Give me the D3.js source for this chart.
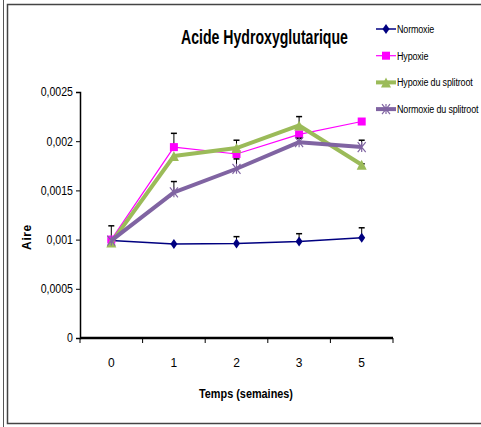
<!DOCTYPE html>
<html>
<head>
<meta charset="utf-8">
<script src="https://cdn.jsdelivr.net/npm/d3@7"></script>
<style>
  body { margin: 0; background: #fff; overflow: hidden; }
  svg { display: block; }
  text { font-family: "Liberation Sans", Arial, sans-serif; }
</style>
</head>
<body>
<div id="chart"></div>
<script>
// data
const weeks = ['0', '1', '2', '3', '5'];
const seriesNames = ['Normoxie', 'Hypoxie', 'Hypoxie du splitroot', 'Normoxie du splitroot'];
const normoxie = [0.00099, 0.000955, 0.00096, 0.00098, 0.00102];
const normoxieErr = [0.00015, 0, 0.00007, 0.00008, 0.0001];
const hypoxie = [0.001, 0.00194, 0.00187, 0.00207, 0.0022];
const hypoxieErr = [0, 0.00014, 0, 0, 0];
const hypoxieSplit = [0.00097, 0.00185, 0.00193, 0.00216, 0.00176];
const hypoxieSplitErr = [0, 0, 0.00008, 0.00009, 0.00001];
const normoxieSplit = [0.00099, 0.00148, 0.00172, 0.00199, 0.00194];
const normoxieSplitErr = [0, 0.00011, 0.0001, 0.00004, 0.00007];
const yTicks = [0, 0.0005, 0.001, 0.0015, 0.002, 0.0025];

const W = 481, H = 427;
const svg = d3.select('#chart').append('svg').attr('width', W).attr('height', H);

// frames
svg.append('line').attr('x1', 3.5).attr('x2', 3.5).attr('y1', 0).attr('y2', H)
  .attr('stroke', '#555').attr('stroke-width', 1);
svg.append('rect').attr('x', 7.5).attr('y', 4.5).attr('width', W).attr('height', 419)
  .attr('fill', 'none').attr('stroke', '#444').attr('stroke-width', 1.5);

// scales
const x = d3.scaleBand().domain(weeks).range([80, 393]);
const y = d3.scaleLinear().domain([0, 0.0025]).range([338, 92]);

const fmt = v => v === 0 ? '0' : String(v).replace('.', ',');

// y axis
const yAxisG = svg.append('g').attr('transform', 'translate(80,0)')
  .call(d3.axisLeft(y).tickValues(yTicks).tickFormat(fmt).tickSize(4).tickPadding(4));
yAxisG.select('.domain').attr('stroke', '#000').attr('stroke-width', 1.5);
yAxisG.selectAll('.tick line').attr('stroke', '#000');
yAxisG.selectAll('text').attr('font-family', '"Liberation Sans", Arial, sans-serif')
  .attr('font-size', 12).attr('fill', '#000')
  .attr('transform', 'scale(0.88,1)');

// x axis: ticks between categories
const xAxisG = svg.append('g').attr('transform', 'translate(0,338)');
xAxisG.append('line').attr('x1', 80).attr('x2', 393).attr('stroke', '#000').attr('stroke-width', 2.5);
const bounds = weeks.map(w => x(w)).concat([x.range()[1]]);
xAxisG.selectAll('.tk').data(bounds).join('line')
  .attr('x1', d => d).attr('x2', d => d).attr('y1', 0).attr('y2', 5)
  .attr('stroke', '#000');
xAxisG.selectAll('.lbl').data(weeks).join('text')
  .attr('x', d => x(d) + x.bandwidth() / 2).attr('y', 29)
  .attr('text-anchor', 'middle').attr('font-size', 12).text(d => d);

// condensed text: squeeze horizontally to a target width
function narrowText(px, py, target, size, label) {
  const g = svg.append('g');
  const t = g.append('text').attr('font-size', size).attr('font-weight', 'bold').text(label);
  const k = target / t.node().getComputedTextLength();
  g.attr('transform', `translate(${px},${py}) scale(${k},1)`);
  return t;
}
narrowText(181, 44, 167, 20, 'Acide Hydroxyglutarique');
narrowText(199, 398, 94, 13.5, 'Temps (semaines)');

svg.append('text').attr('transform', 'translate(31,237) rotate(-90)')
  .attr('text-anchor', 'middle')
  .attr('font-size', 12).attr('font-weight', 'bold').attr('letter-spacing', 0.6).text('Aire');

const series = [
  { name: seriesNames[0], values: normoxie, err: normoxieErr, color: '#000080', width: 1.5, marker: 'diamond' },
  { name: seriesNames[1], values: hypoxie, err: hypoxieErr, color: '#FF00FF', width: 1.2, marker: 'square' },
  { name: seriesNames[2], values: hypoxieSplit, err: hypoxieSplitErr, color: '#9BBB59', width: 4, marker: 'triangle' },
  { name: seriesNames[3], values: normoxieSplit, err: normoxieSplitErr, color: '#8064A2', width: 4, marker: 'x' }
];

const cx = w => x(w) + x.bandwidth() / 2;

function drawMarker(g, type, px, py, color) {
  if (type === 'diamond') {
    g.append('path').attr('d', `M${px},${py - 5}L${px + 3.5},${py}L${px},${py + 5}L${px - 3.5},${py}Z`).attr('fill', color);
  } else if (type === 'square') {
    g.append('rect').attr('x', px - 4).attr('y', py - 4).attr('width', 8).attr('height', 8).attr('fill', color);
  } else if (type === 'triangle') {
    g.append('path').attr('d', `M${px},${py - 5}L${px + 5},${py + 5}L${px - 5},${py + 5}Z`).attr('fill', color);
  } else {
    g.append('path').attr('d', `M${px - 4},${py - 5}L${px + 4},${py + 5}M${px + 4},${py - 5}L${px - 4},${py + 5}M${px},${py - 5}L${px},${py + 5}`)
      .attr('stroke', color).attr('stroke-width', 1.2).attr('fill', 'none');
  }
}

const line = d3.line().x(d => cx(d.w)).y(d => y(d.v));

series.forEach(s => {
  const pts = weeks.map((w, i) => ({ w: w, v: s.values[i], e: s.err[i] }));
  const g = svg.append('g');
  // error bars (upper only)
  pts.filter(p => p.e > 0).forEach(p => {
    g.append('line').attr('x1', cx(p.w)).attr('x2', cx(p.w)).attr('y1', y(p.v)).attr('y2', y(p.v + p.e))
      .attr('stroke', '#000').attr('stroke-width', 1);
    g.append('line').attr('x1', cx(p.w) - 3).attr('x2', cx(p.w) + 3).attr('y1', y(p.v + p.e)).attr('y2', y(p.v + p.e))
      .attr('stroke', '#000').attr('stroke-width', 1.5);
  });
  g.append('path').datum(pts).attr('d', line).attr('fill', 'none')
    .attr('stroke', s.color).attr('stroke-width', s.width).attr('stroke-linejoin', 'round');
  pts.forEach(p => drawMarker(g, s.marker, cx(p.w), y(p.v), s.color));
});

// legend
const legend = svg.append('g');
series.forEach((s, i) => {
  const ly = 29 + i * 26.7;
  legend.append('line').attr('x1', 376).attr('x2', 396).attr('y1', ly).attr('y2', ly)
    .attr('stroke', s.color).attr('stroke-width', s.width);
  drawMarker(legend, s.marker, 386, ly, s.color);
  legend.append('g').attr('transform', `translate(397,${ly + 4}) scale(0.78,1)`)
    .append('text').attr('font-size', 11.5).attr('letter-spacing', -0.2).text(s.name);
});
</script>
</body>
</html>
